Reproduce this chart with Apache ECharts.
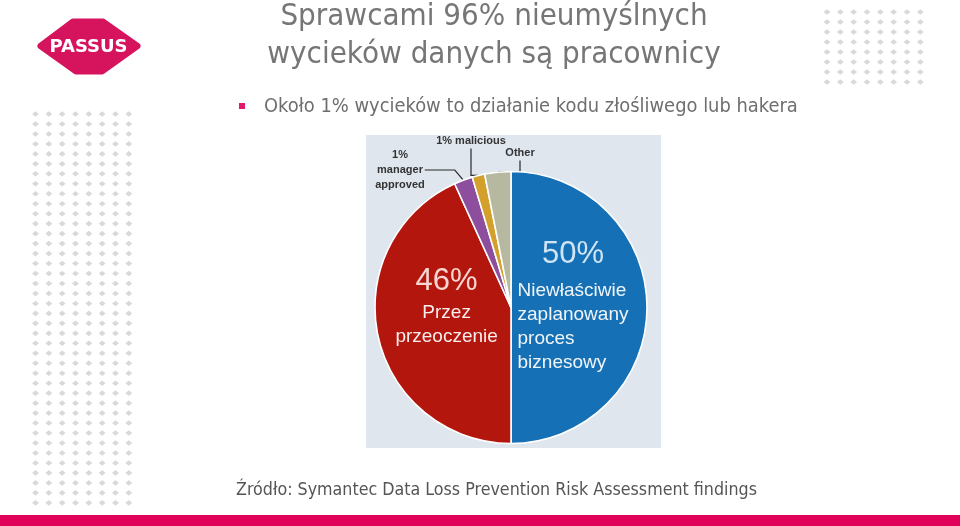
<!DOCTYPE html>
<html><head><meta charset="utf-8">
<script src="https://cdn.jsdelivr.net/npm/echarts@6/dist/echarts.min.js"></script>
<style>html,body{margin:0;padding:0;background:#fff}#c{width:960px;height:526px}</style>
</head><body><div id="c"></div>
<script>
// ---- data ----
const titleLines = ['Sprawcami 96% nieumyślnych', 'wycieków danych są pracownicy'];
const bulletText = 'Około 1% wycieków to działanie kodu złośliwego lub hakera';
const sourceText = 'Źródło: Symantec Data Loss Prevention Risk Assessment findings';
const categories = ['Niewłaściwie\nzaplanowany\nproces\nbiznesowy', 'Przez\nprzeoczenie', '1%\nmanager\napproved', '1% malicious', 'Other'];
const values = [50, 43.2, 2.2, 1.5, 3.1];
const pctLabels = ['50%', '46%', '', '', ''];

// ---- styles ----
const palette = ['#1570b6', '#b3160d', '#8d4f9d', '#d2a02b', '#b6b9a0'];
const magenta = '#e0005a';

const chart = echarts.init(document.getElementById('c'), null, {renderer: 'canvas'});

// decorative dot grids
const dots = [];
function dotGrid(x0, y0, cols, rows, dx, dy) {
  for (let r = 0; r < rows; r++) for (let c = 0; c < cols; c++) {
    dots.push({type: 'polygon', silent: true,
      shape: {points: [[0, -2.8], [3.4, 0], [0, 2.8], [-3.4, 0]]},
      x: x0 + c * dx, y: y0 + r * dy,
      style: {fill: '#d9d9d9'}});
  }
}
dotGrid(35.5, 114, 8, 40, 13.33, 9.97);
dotGrid(827, 12, 8, 8, 13.33, 10);

const graphics = dots.concat([
  {type: 'rect', shape: {x: 366, y: 135, width: 295, height: 313}, style: {fill: '#dfe6ed'}, z: -1, silent: true},
  {type: 'rect', shape: {x: 0, y: 515, width: 960, height: 11}, style: {fill: magenta}, silent: true},
  // logo
  {type: 'polygon', shape: {points: [[41, 46], [73, 22], [103, 22], [137, 46], [102, 71], [76, 71]]},
   style: {fill: '#d6145d', stroke: '#d6145d', lineWidth: 7, lineJoin: 'round'}, silent: true},
  {type: 'text', x: 88.5, y: 47, style: {text: 'PASSUS', fill: '#fff', font: 'bold 18px "DejaVu Sans"', align: 'center', verticalAlign: 'middle'}, silent: true},
  // title
  {type: 'text', x: 494, y: 17, style: {text: titleLines[0], fill: '#767676', font: '31px "DejaVu Sans Condensed", "DejaVu Sans"', align: 'center', verticalAlign: 'middle'}, silent: true},
  {type: 'text', x: 494, y: 55, style: {text: titleLines[1], fill: '#767676', font: '31px "DejaVu Sans Condensed", "DejaVu Sans"', align: 'center', verticalAlign: 'middle'}, silent: true},
  // bullet
  {type: 'rect', shape: {x: 239, y: 103, width: 6, height: 6}, style: {fill: '#e3176b'}, silent: true},
  {type: 'text', x: 264, y: 107, style: {text: bulletText, fill: '#6e6e6e', font: '19.9px "DejaVu Sans Condensed", "DejaVu Sans"', align: 'left', verticalAlign: 'middle'}, silent: true},
  // source
  {type: 'text', x: 236, y: 490, style: {text: sourceText, fill: '#555555', font: '17.7px "DejaVu Sans Condensed", "DejaVu Sans"', align: 'left', verticalAlign: 'middle'}, silent: true}
]);

const innerRich = {
  bigB: {fontSize: 31, fontFamily: 'Liberation Sans', color: '#cfe4f4', lineHeight: 48, align: 'center'},
  bigR: {fontSize: 31, fontFamily: 'Liberation Sans', color: '#f6d6d2', lineHeight: 38, align: 'center'},
  tl: {fontSize: 19, fontFamily: 'Liberation Sans', color: '#f1f5f9', lineHeight: 24, align: 'left'},
  tc: {fontSize: 19, fontFamily: 'Liberation Sans', color: '#f8eeee', lineHeight: 24, align: 'center'}
};

const outerLabelPos = {2: [400, 170], 3: [471, 141], 4: [520, 153]};

const data = categories.map((name, i) => {
  const item = {name: name, value: values[i], itemStyle: {color: palette[i]}};
  if (i === 0) {
    item.label = {position: 'inside', formatter: '{bigB|' + pctLabels[i] + '}\n' + name.split('\n').map(s => '{tl|' + s + '}').join('\n'), rich: innerRich};
    item.labelLine = {show: false};
  } else if (i === 1) {
    item.label = {position: 'inside', formatter: '{bigR|' + pctLabels[i] + '}\n' + name.split('\n').map(s => '{tc|' + s + '}').join('\n'), rich: innerRich};
    item.labelLine = {show: false};
  } else {
    item.label = {position: 'outside', formatter: name, color: '#333', fontFamily: '"Liberation Sans Narrow", "Liberation Sans"', fontWeight: 'bold', fontSize: 11, lineHeight: 15, align: 'center'};
    item.labelLine = {show: true, lineStyle: {color: '#2a2a2a', width: 1.2}};
  }
  return item;
});

chart.setOption({
  animation: false,
  backgroundColor: '#ffffff',
  graphic: graphics,
  series: [{
    type: 'pie',
    center: [511, 307.5],
    radius: [0, 136],
    startAngle: 90,
    clockwise: true,
    avoidLabelOverlap: false,
    emphasis: {disabled: true},
    itemStyle: {borderColor: '#ffffff', borderWidth: 1.6},
    labelLayout: function (p) {
      if (p.dataIndex === 0) return {dx: -9, dy: -5};
      if (p.dataIndex === 1) return {dx: 5, dy: -17};
      const pos = outerLabelPos[p.dataIndex];
      return {x: pos[0], y: pos[1], align: 'center', verticalAlign: 'middle'};
    },
    data: data
  }]
});
</script></body></html>
